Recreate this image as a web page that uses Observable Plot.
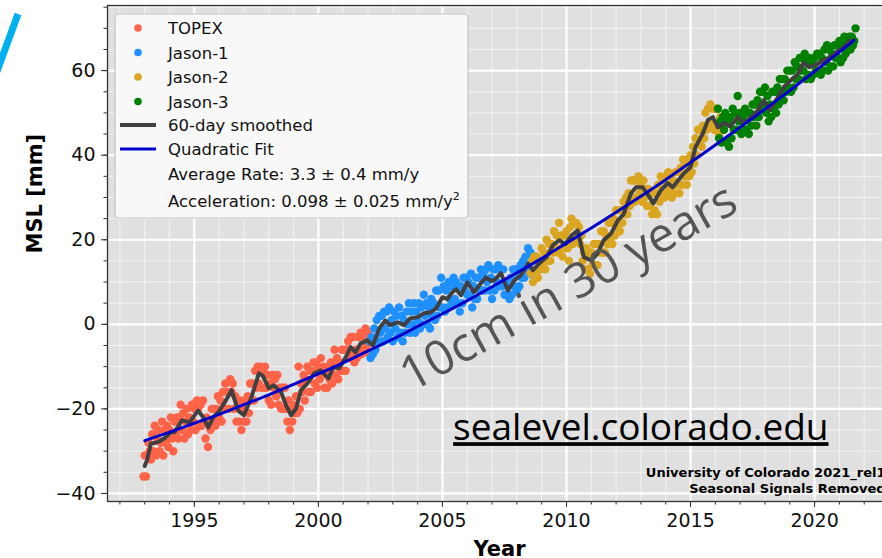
<!DOCTYPE html>
<html><head><meta charset="utf-8">
<script src="https://cdn.jsdelivr.net/npm/d3@7"></script>
<script src="https://cdn.jsdelivr.net/npm/@observablehq/plot@0.6"></script>
<style>
html,body{margin:0;padding:0;background:#fff;overflow:hidden;width:882px;height:558px;}
#wrap{position:relative;width:882px;height:558px;overflow:hidden;}
#chart svg{max-width:none !important;width:900px !important;height:558px !important;display:block;}
#slash{position:absolute;left:0;top:0;}
</style></head><body>
<div id="wrap"><div id="chart"></div>
<svg id="slash" width="40" height="90"><line x1="18" y1="14" x2="-4" y2="74" stroke="#00b0f0" stroke-width="7"/></svg>
</div>
<script>
// ---- data ----
const step = 0.05; // sampling interval in years
const topexStart = 1992.95;
const topexValues = [-36,-31,-36,-31,-28,-30,-32,-26,-30,-24,
-31,-27,-25,-30,-28,-23,-31,-25,-28,-24,
-29,-25,-22,-27,-30,-23,-26,-22,-27,-22,
-19,-25,-21,-27,-23,-20,-26,-22,-25,-19,
-23,-20,-25,-18,-20,-24,-19,-24,-18,-23,
-27,-22,-29,-23,-25,-20,-23,-20,-24,-20,
-17,-22,-18,-23,-16,-20,-14,-20,-16,-20,
-13,-16,-14,-20,-17,-23,-18,-23,-18,-25,
-20,-23,-18,-23,-17,-21,-14,-18,-14,-18,
-11,-15,-10,-14,-10,-15,-11,-15,-10,-15,
-12,-18,-14,-19,-12,-15,-13,-17,-12,-19,
-15,-20,-15,-20,-15,-20,-23,-18,-25,-20,
-23,-19,-21,-17,-21,-10,-20,-14,-16,-12,
-18,-13,-10,-16,-11,-16,-11,-9,-14,-9,
-15,-10,-13,-8,-12,-10,-15,-11,-15,-10,
-13,-9,-14,-9,-6,-12,-8,-13,-9,-11,
-6,-11,-6,-11,-6,-4,-8,-3,-7,-3,
-9,-6,-8,-3,-6,-2,-7,-3,-6,-1,
-5,-2,-7,-4];
const jason1Start = 2002.05;
const jason1Values = [-4,-8,-3,-7,-1,-6,1,-4,2,-2,
2,-4,3,-1,3,-3,4,-2,1,-4,
3,-1,2,-3,4,-2,2,-4,1,-2,
3,0,5,-2,3,0,5,-2,3,1,
5,-1,4,0,7,2,5,0,4,-1,
6,2,5,1,8,2,8,4,11,4,
9,3,8,4,10,6,9,5,11,6,
10,5,9,3,9,5,11,8,11,7,
10,7,12,4,9,6,11,6,11,8,
13,8,12,8,13,10,14,8,11,6,
13,8,13,10,14,9,13,9,13,7,
10,7,9,6,11,7,13,9,13,8,
12,9,14,11,15,11,16,13,18,12,
17,12];
const jason2Start = 2008.55;
const jason2Values = [12,15,10,16,12,16,11,15,13,18,
14,17,13,20,15,19,15,19,17,22,
18,21,17,24,18,21,16,21,18,22,
18,15,23,25,19,24,21,24,20,23,
19,21,15,17,13,18,13,16,12,17,
14,19,14,19,14,19,17,22,17,22,
17,21,19,24,20,24,19,25,21,27,
23,27,22,27,24,29,26,30,26,31,
28,34,30,34,29,34,30,35,31,33,
29,34,30,32,28,32,28,31,26,31,
27,31,26,33,29,35,31,34,30,35,
31,36,32,35,30,34,31,36,33,36,
31,37,33,39,35,38,33,39,35,40,
36,42,38,44,40,46,43,46,42,47,
44,50,46,51,47,52,48,51,46,51,
46,51,45,49];
const jason3Start = 2016.10;
const jason3Values = [51,44,48,43,49,46,50,43,48,42,
49,44,51,46,50,46,54,48,50,45,
49,46,51,46,50,45,50,47,52,49,
52,47,53,49,55,51,55,51,56,50,
54,48,52,49,55,51,55,50,56,52,
58,54,58,53,58,55,60,56,60,55,
60,56,62,58,61,58,63,60,63,60,
64,58,62,59,63,58,62,59,63,60,
64,60,64,59,63,60,65,62,66,60,
65,61,64,61,66,63,66,63,67,62,
66,63,68,64,67,65,68,65,68,66,
67,70];
const smoothYears = [1993.0,1993.1,1993.25,1993.45,1993.65,1993.85,1994.05,1994.2,1994.5,1994.8,1995.15,1995.36,1995.56,1995.76,1996.0,1996.2,1996.5,1996.77,1997.0,1997.3,1997.6,1997.75,1998.0,1998.2,1998.5,1998.7,1998.9,1999.1,1999.3,1999.6,1999.83,2000.1,2000.4,2000.6,2000.84,2001.1,2001.3,2001.5,2001.7,2001.97,2002.2,2002.45,2002.7,2002.9,2003.2,2003.45,2003.7,2004.0,2004.25,2004.5,2004.75,2005.0,2005.2,2005.4,2005.55,2005.75,2006.0,2006.27,2006.55,2006.75,2006.96,2007.1,2007.36,2007.64,2007.9,2008.15,2008.45,2008.65,2008.9,2009.2,2009.45,2009.7,2009.95,2010.2,2010.45,2010.7,2011.0,2011.26,2011.5,2011.8,2012.07,2012.3,2012.6,2012.8,2013.07,2013.3,2013.5,2013.8,2014.08,2014.28,2014.5,2014.73,2015.0,2015.2,2015.5,2015.7,2015.9,2016.1,2016.34,2016.6,2016.9,2017.14,2017.4,2017.7,2017.95,2018.2,2018.5,2018.75,2019.03,2019.3,2019.55,2019.8,2020.1,2020.36,2020.64,2020.9,2021.17,2021.45];
const smoothValues = [-33.5,-32,-28.2,-28,-27.5,-26.7,-25.5,-25.5,-22.7,-23.2,-20.4,-22,-24.4,-22,-20.5,-18.7,-15.6,-20.4,-21.5,-17.3,-11.6,-12.1,-15.1,-14.4,-16.1,-19.2,-21.5,-19.9,-15.6,-13.7,-11.6,-10.9,-12.8,-10.2,-10.4,-7.8,-5.4,-6.6,-4.5,-3.8,-5.0,-1.0,0.9,-0.2,0.5,-0.2,1.4,1.7,2.6,2.8,3.8,6.4,6.0,7.6,8.3,6.9,9.9,7.6,9.7,11.1,10.2,10.5,12.1,8.0,10.4,11.5,14.4,12.8,14.4,15.9,18.7,19.9,19.0,21,22.2,15.9,15.1,16.8,19.9,21.5,24.6,26,31,32.4,32.4,30.5,28.6,31.7,33.4,32.4,34,35.7,37.2,41.9,45.2,48.3,49,46.6,47.6,46.8,49,47.6,48.8,50.5,53,50.7,53.5,56.1,57.7,59,61.8,60.8,61.5,62.5,63.2,64.5,65.6,67.2];
const fitYears = [1993,1994,1995,1996,1997,1998,1999,2000,2001,2002,2003,2004,2005,2006,2007,2008,2009,2010,2011,2012,2013,2014,2015,2016,2017,2018,2019,2020,2021,2021.6];
const fitValues = [-27.5,-25.5,-23.4,-21.3,-19.0,-16.7,-14.2,-11.7,-9.1,-6.3,-3.5,-0.5,2.5,5.6,8.9,12.2,15.6,19.2,22.8,26.5,30.3,34.2,38.3,42.4,46.6,50.9,55.3,59.8,64.4,67.2];
const xMajor = [1995,2000,2005,2010,2015,2020];
const xMinor = [1992,1993,1994,1995,1996,1997,1998,1999,2000,2001,2002,2003,2004,2005,2006,2007,2008,2009,2010,2011,2012,2013,2014,2015,2016,2017,2018,2019,2020,2021,2022,2023];
const yMajor = [-40,-20,0,20,40,60];
const yMinor = [-40,-35,-30,-25,-20,-15,-10,-5,0,5,10,15,20,25,30,35,40,45,50,55,60,65,70,75];
const seriesNames = ["TOPEX","Jason-1","Jason-2","Jason-3"];
const seriesColors = ["#ff6347","#1e90ff","#daa520","#008000"];
const lineNames = ["60-day smoothed","Quadratic Fit"];
const smoothColor = "#404040", fitColor = "#0000cc";

// ---- build tables ----
const mk = (start, vals) => vals.map((v, i) => ({year: +(start + i * step).toFixed(3), msl: v}));
const topex = mk(topexStart, topexValues);
const jason1 = mk(jason1Start, jason1Values);
const jason2 = mk(jason2Start, jason2Values);
const jason3 = mk(jason3Start, jason3Values);
const smooth = smoothYears.map((y, i) => ({year: y, msl: smoothValues[i]}));
const fit = fitYears.map((y, i) => ({year: y, msl: fitValues[i]}));
const neg = d => d < 0 ? "\u2212" + Math.abs(d) : String(d);

const R = 4.2;
const chart = Plot.plot({
  width: 900, height: 558,
  marginLeft: 107, marginRight: 9, marginTop: 5, marginBottom: 57,
  x: {domain: [1991.5, 2023.1]},
  y: {domain: [-41.9, 75.4]},
  style: {fontFamily: "DejaVu Sans", background: "transparent", color: "#111", overflow: "visible"},
  marks: [
    Plot.frame({fill: "#e0e0e0", stroke: null}),
    Plot.ruleX(xMinor, {stroke: "#f3f3f3", strokeWidth: 1}),
    Plot.ruleY(yMinor, {stroke: "#f3f3f3", strokeWidth: 1}),
    Plot.ruleX(xMajor, {stroke: "#ffffff", strokeWidth: 2.2}),
    Plot.ruleY(yMajor, {stroke: "#ffffff", strokeWidth: 2.2}),
    Plot.dot(topex, {x: "year", y: "msl", r: R, fill: seriesColors[0], stroke: null}),
    Plot.dot(jason1, {x: "year", y: "msl", r: R, fill: seriesColors[1], stroke: null}),
    Plot.dot(jason2, {x: "year", y: "msl", r: R, fill: seriesColors[2], stroke: null}),
    Plot.dot(jason3, {x: "year", y: "msl", r: R, fill: seriesColors[3], stroke: null}),
    Plot.line(smooth, {x: "year", y: "msl", stroke: smoothColor, strokeWidth: 4, strokeLinejoin: "round"}),
    Plot.line(fit, {x: "year", y: "msl", stroke: fitColor, strokeWidth: 3, curve: "natural"}),
    Plot.text(["10cm in 30 years"], {x: 2003.75, y: -16.1, text: d => d, rotate: -29, textAnchor: "start", lineAnchor: "bottom", fontSize: 48, fontFamily: "Open Sans", fill: "#555555"}),
    Plot.text(["sealevel.colorado.edu"], {x: 2005.43, y: -27.4, text: d => d, textAnchor: "start", lineAnchor: "bottom", fontSize: 37, fontFamily: "Open Sans", fill: "#000"}),
    Plot.text(["University of Colorado 2021_rel1"], {x: 2022.86, y: -36.2, text: d => d, textAnchor: "end", lineAnchor: "bottom", fontSize: 13, fontWeight: "bold", fill: "#000"}),
    Plot.text(["Seasonal Signals Removed"], {x: 2022.86, y: -39.9, text: d => d, textAnchor: "end", lineAnchor: "bottom", fontSize: 13, fontWeight: "bold", fill: "#000"}),
    Plot.frame({stroke: "#333", strokeWidth: 1.3}),
    Plot.axisX({ticks: xMinor, tickSize: 3.5, tickFormat: () => "", label: null, stroke: "#333"}),
    Plot.axisY({ticks: yMinor, tickSize: 3.5, tickFormat: () => "", label: null, stroke: "#333"}),
    Plot.axisX({ticks: xMajor, tickSize: 6, tickPadding: 6, fontSize: 19, tickFormat: d => String(d), label: null, stroke: "#333"}),
    Plot.axisY({ticks: yMajor, tickSize: 6, tickPadding: 6, fontSize: 19, tickFormat: neg, label: null, stroke: "#333"}),
    Plot.text(["Year"], {frameAnchor: "bottom", dy: 54, text: d => d, lineAnchor: "bottom", fontSize: 21, fontWeight: "bold", fill: "#000"}),
    Plot.text(["MSL [mm]"], {frameAnchor: "left", dx: -72, rotate: -90, text: d => d, lineAnchor: "middle", fontSize: 21, fontWeight: "bold", fill: "#000"})
  ]
});
chart.style.maxWidth = "none";
document.getElementById("chart").appendChild(chart);

// underline the URL
d3.select(chart).selectAll("text").filter(function(){ return this.textContent === "sealevel.colorado.edu"; })
  .attr("text-decoration", "underline");

// ---- legend ----
const svg = d3.select(chart);
const lg = svg.append("g").attr("font-family", "DejaVu Sans").attr("font-size", 16.5).attr("fill", "#111").attr("text-anchor", "start");
lg.append("rect").attr("x", 115).attr("y", 14).attr("width", 353).attr("height", 204).attr("rx", 4)
  .attr("fill", "#f8f8f8").attr("stroke", "#c4c4c4").attr("stroke-width", 1.2);
const base = [34, 58.5, 83, 107.5, 131, 155, 180, 207];
seriesNames.forEach((n, i) => {
  lg.append("circle").attr("cx", 138).attr("cy", base[i] - 6).attr("r", 3.8).attr("fill", seriesColors[i]);
  lg.append("text").attr("x", 168).attr("y", base[i]).text(n);
});
[[smoothColor, 4], [fitColor, 3]].forEach(([c, w], j) => {
  const y = base[4 + j] - 6;
  lg.append("line").attr("x1", 120).attr("x2", 156).attr("y1", y).attr("y2", y).attr("stroke", c).attr("stroke-width", w);
  lg.append("text").attr("x", 168).attr("y", base[4 + j]).text(lineNames[j]);
});
lg.append("text").attr("x", 168).attr("y", base[6]).text("Average Rate: 3.3 \u00b1 0.4 mm/y");
const acc = lg.append("text").attr("x", 168).attr("y", base[7]).text("Acceleration: 0.098 \u00b1 0.025 mm/y");
acc.append("tspan").attr("font-size", 11).attr("dy", -7).text("2");
</script>
</body></html>
